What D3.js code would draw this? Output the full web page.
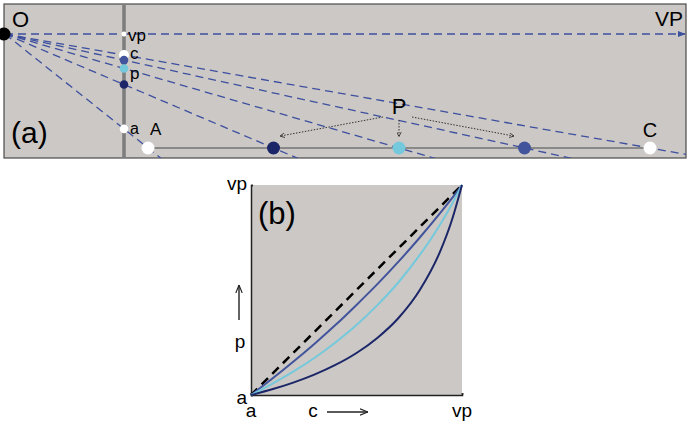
<!DOCTYPE html>
<html>
<head>
<meta charset="utf-8">
<script src="https://cdn.jsdelivr.net/npm/d3@7"></script>
<style>
  body { margin:0; background:#fff; }
  text { font-family: "Liberation Sans", Arial, sans-serif; fill:#000; }
</style>
</head>
<body>
<div id="chart-area"></div>
<script>
// ---- data ----
// panel (a): scene in "ground units", eye O at the origin
const planeX = 119;            // distance eye -> picture plane (vertical bar)
const groundY = 114;           // depth of the ground line below the eye
const groundA = 143, groundC = 645;
const groundT = [0, 0.25, 0.5, 0.75, 1];   // A, three points, C
const pointColors = ["#ffffff", "#1b2668", "#74c9dc", "#42549b", "#ffffff"];
const planeLabels = ["a", "p", "c", "vp"];

// panel (b): projected position p against c, one curve per point
const cVals = [0, 0.1, 0.2, 0.3, 0.4, 0.5, 0.6, 0.7, 0.8, 0.9, 0.95, 1];
const pNear = [0, 0.077, 0.158, 0.243, 0.333, 0.429, 0.529, 0.636, 0.75, 0.871, 0.934, 1];
const pMid  = [0, 0.053, 0.111, 0.176, 0.25, 0.333, 0.429, 0.538, 0.667, 0.818, 0.905, 1];
const pFar  = [0, 0.027, 0.059, 0.097, 0.143, 0.2, 0.273, 0.368, 0.5, 0.692, 0.826, 1];
const curveColors = ["#42549b", "#74c9dc", "#1b2668"];

const W = 690, H = 426;
const bg = "#ccc8c5", dashBlue = "#3d4f9f";

const svg = d3.select("#chart-area").append("svg")
    .attr("width", W).attr("height", H);

const defs = svg.append("defs");
defs.append("marker").attr("id", "vpArrow")
    .attr("viewBox", "0 0 10 10").attr("refX", 9).attr("refY", 5)
    .attr("markerWidth", 6).attr("markerHeight", 6).attr("orient", "auto")
  .append("path").attr("d", "M0,1L10,5L0,9Z").attr("fill", dashBlue);
defs.append("marker").attr("id", "dotArrow")
    .attr("viewBox", "0 0 10 10").attr("refX", 9).attr("refY", 5)
    .attr("markerWidth", 5).attr("markerHeight", 5).attr("orient", "auto")
    .attr("markerUnits", "userSpaceOnUse")
  .append("path").attr("d", "M0,0L10,5L0,10").attr("fill", "none")
    .attr("stroke", "#222").attr("stroke-width", 1.5);
defs.append("marker").attr("id", "plainArrow")
    .attr("viewBox", "0 0 10 10").attr("refX", 10).attr("refY", 5)
    .attr("markerWidth", 8).attr("markerHeight", 8).attr("orient", "auto")
    .attr("markerUnits", "userSpaceOnUse")
  .append("path").attr("d", "M0,1L10,5L0,9").attr("fill", "none")
    .attr("stroke", "#222").attr("stroke-width", 1.4);

// ================= panel (a) =================
const xa = d3.scaleLinear().domain([0, 681]).range([5, 686]);
const ya = d3.scaleLinear().domain([0, groundY]).range([34, 148]);
const gx = t => groundA + t * (groundC - groundA);

defs.append("clipPath").attr("id", "clipA")
  .append("rect").attr("x", xa(-1)).attr("y", ya(-30))
    .attr("width", xa(681) - xa(-1)).attr("height", ya(124) - ya(-30));

const ga = svg.append("g");
ga.append("rect")
    .attr("x", xa(-1)).attr("y", ya(-30))
    .attr("width", xa(681) - xa(-1)).attr("height", ya(124) - ya(-30))
    .attr("fill", bg).attr("stroke", "#4a4a4a").attr("stroke-width", 1.2);

const clipped = ga.append("g").attr("clip-path", "url(#clipA)");

// picture plane
clipped.append("line")
    .attr("x1", xa(planeX)).attr("x2", xa(planeX))
    .attr("y1", ya(-30)).attr("y2", ya(124))
    .attr("stroke", "#7d7d7d").attr("stroke-width", 3.5);

// ground line
clipped.append("line")
    .attr("x1", xa(groundA)).attr("x2", xa(groundC))
    .attr("y1", ya(groundY)).attr("y2", ya(groundY))
    .attr("stroke", "#747474").attr("stroke-width", 1.6);

// sight lines from O through each ground point
const farX = 700;
clipped.selectAll(".sight").data(groundT).enter().append("line")
    .attr("class", "sight")
    .attr("x1", xa(0)).attr("y1", ya(0))
    .attr("x2", xa(farX)).attr("y2", t => ya(groundY * farX / gx(t)))
    .attr("stroke", dashBlue).attr("stroke-width", 1.3)
    .attr("stroke-dasharray", "8,5");

// line to the vanishing point
ga.append("line")
    .attr("x1", xa(0)).attr("y1", ya(0))
    .attr("x2", xa(680)).attr("y2", ya(0))
    .attr("stroke", dashBlue).attr("stroke-width", 1.3)
    .attr("stroke-dasharray", "8,5")
    .attr("marker-end", "url(#vpArrow)");

// projected points on the plane (c first, then the coloured ones over it)
const planeOrder = [4, 3, 2, 1, 0];
ga.selectAll(".proj").data(planeOrder).enter().append("circle")
    .attr("class", "proj")
    .attr("cx", xa(planeX))
    .attr("cy", i => ya(groundY * planeX / gx(groundT[i])))
    .attr("r", i => (i === 4 ? 5 : 4.3))
    .attr("fill", i => pointColors[i]);
ga.append("circle").attr("cx", xa(planeX)).attr("cy", ya(0))
    .attr("r", 2.5).attr("fill", "#fff");

// ground points
ga.selectAll(".gpt").data(groundT).enter().append("circle")
    .attr("class", "gpt")
    .attr("cx", t => xa(gx(t))).attr("cy", ya(groundY))
    .attr("r", 6.5)
    .attr("fill", (t, i) => pointColors[i]);

// eye
ga.append("circle").attr("cx", xa(-1)).attr("cy", ya(0)).attr("r", 6.5).attr("fill", "#000");

// dotted arrows from P to the three points
const arrowT = [0.25, 0.5, 0.75];
const arrowStart = [[-16, -31], [0, -28], [13, -31]];
const arrowEndDx = [7, 0, -11];
const pX = gx(0.5);
ga.selectAll(".parrow").data(arrowT).enter().append("line")
    .attr("class", "parrow")
    .attr("x1", (t, i) => xa(pX + arrowStart[i][0]))
    .attr("y1", (t, i) => ya(groundY + arrowStart[i][1]))
    .attr("x2", (t, i) => xa(gx(t) + arrowEndDx[i]))
    .attr("y2", ya(groundY - 12))
    .attr("stroke", "#333").attr("stroke-width", 1)
    .attr("stroke-dasharray", "1.5,1.5")
    .attr("marker-end", "url(#dotArrow)");

// labels
ga.append("text").attr("x", 12).attr("y", 27).attr("font-size", 22).text("O");
ga.append("text").attr("x", 683).attr("y", 26).attr("font-size", 21)
    .attr("text-anchor", "end").text("VP");
ga.append("text").attr("x", 128).attr("y", 41).attr("font-size", 17).text("vp");
ga.append("text").attr("x", 130).attr("y", 59).attr("font-size", 17).text("c");
ga.append("text").attr("x", 130).attr("y", 79).attr("font-size", 17).text("p");
ga.append("text").attr("x", 130).attr("y", 134).attr("font-size", 16).text("a");
ga.append("text").attr("x", 150).attr("y", 135).attr("font-size", 17).text("A");
ga.append("text").attr("x", xa(groundC)).attr("y", 137).attr("font-size", 20)
    .attr("text-anchor", "middle").text("C");
ga.append("text").attr("x", xa(pX)).attr("y", 114).attr("font-size", 22)
    .attr("text-anchor", "middle").text("P");
ga.append("text").attr("x", 11).attr("y", 143).attr("font-size", 30).text("(a)");

// ================= panel (b) =================
const xb = d3.scaleLinear().domain([0, 1]).range([251, 462]);
const yb = d3.scaleLinear().domain([0, 1]).range([395, 185]);

const gb = svg.append("g");
gb.append("rect")
    .attr("x", xb(0)).attr("y", yb(1))
    .attr("width", xb(1) - xb(0)).attr("height", yb(0) - yb(1))
    .attr("fill", bg);

const xAxisCall = d3.axisBottom(xb).tickValues([0, 1]).tickSize(-2).tickFormat("");
gb.append("g").attr("transform", "translate(0," + yb(0) + ")").call(xAxisCall)
    .call(g => g.selectAll("path,line").attr("stroke", "#222").attr("stroke-width", 1.5));
const yAxisCall = d3.axisLeft(yb).tickValues([0, 1]).tickSize(-2).tickFormat("");
gb.append("g").attr("transform", "translate(" + xb(0) + ",0)").call(yAxisCall)
    .call(g => g.selectAll("path,line").attr("stroke", "#222").attr("stroke-width", 1.5));

// diagonal p = c
gb.append("line")
    .attr("x1", xb(0)).attr("y1", yb(0)).attr("x2", xb(1)).attr("y2", yb(1))
    .attr("stroke", "#000").attr("stroke-width", 2.5)
    .attr("stroke-dasharray", "9,6");

const line = d3.line()
    .x(d => xb(d[0])).y(d => yb(d[1]))
    .curve(d3.curveMonotoneX);
[pNear, pMid, pFar].forEach(function (vals, k) {
    gb.append("path")
        .datum(cVals.map((c, i) => [c, vals[i]]))
        .attr("d", line)
        .attr("fill", "none")
        .attr("stroke", curveColors[k])
        .attr("stroke-width", 2);
});

gb.append("text").attr("x", 258).attr("y", 224).attr("font-size", 31).text("(b)");
gb.append("text").attr("x", 247).attr("y", 190).attr("font-size", 19)
    .attr("text-anchor", "end").text("vp");
gb.append("text").attr("x", 247).attr("y", 404).attr("font-size", 19)
    .attr("text-anchor", "end").text("a");
gb.append("text").attr("x", xb(0)).attr("y", 417).attr("font-size", 19)
    .attr("text-anchor", "middle").text("a");
gb.append("text").attr("x", xb(1)).attr("y", 417).attr("font-size", 19)
    .attr("text-anchor", "middle").text("vp");
gb.append("text").attr("x", 313).attr("y", 417).attr("font-size", 19)
    .attr("text-anchor", "middle").text("c");
gb.append("line").attr("x1", 327).attr("x2", 368).attr("y1", 412).attr("y2", 412)
    .attr("stroke", "#222").attr("stroke-width", 1.4)
    .attr("marker-end", "url(#plainArrow)");
gb.append("text").attr("x", 240).attr("y", 348).attr("font-size", 19)
    .attr("text-anchor", "middle").text("p");
gb.append("line").attr("x1", 239).attr("x2", 239).attr("y1", 320).attr("y2", 285)
    .attr("stroke", "#222").attr("stroke-width", 1.4)
    .attr("marker-end", "url(#plainArrow)");
</script>
</body>
</html>
